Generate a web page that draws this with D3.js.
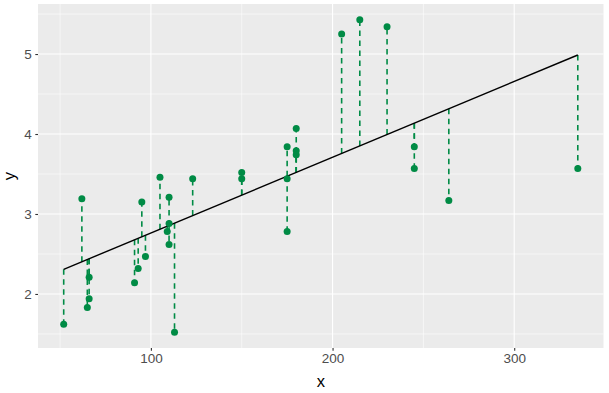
<!DOCTYPE html>
<html>
<head>
    <meta charset="UTF-8">
    <title>Residuals</title>
    <script src="https://cdn.jsdelivr.net/npm/d3@7"></script>
    <style>
        body { margin: 0; background: #fff; }
        svg text { font-family: "Liberation Sans", Arial, sans-serif; }
    </style>
</head>
<body>
<div id="chart"></div>
<script>

    var xValues = [52, 62, 66, 66, 65, 91, 93, 95, 97, 105, 109, 110, 110, 110, 113, 123,
        150, 150, 175, 175, 175, 180, 180, 180, 205, 215, 230, 245, 245, 264, 335];
    var yValues = [1.62, 3.19, 2.21, 1.94, 1.83, 2.14, 2.32, 3.15, 2.47, 3.46, 2.78, 3.21, 2.62, 2.88, 1.52, 3.44,
        3.52, 3.44, 3.84, 3.44, 2.78, 4.07, 3.79, 3.74, 5.25, 5.43, 5.34, 3.84, 3.57, 3.17, 3.57];

    var xTicks = [100, 200, 300];
    var xMinor = [50, 150, 250];
    var yTicks = [2, 3, 4, 5];
    var yMinor = [1.5, 2.5, 3.5, 4.5, 5.5];

    var width = 609, height = 393;
    var panel = {left: 38, top: 4, right: 603.5, bottom: 348};

    var data = xValues.map(function (x, i) { return {x: x, y: yValues[i]}; });

    // Least squares fit
    var mx = d3.mean(xValues), my = d3.mean(yValues);
    var sxy = d3.sum(data, function (d) { return (d.x - mx) * (d.y - my); });
    var sxx = d3.sum(data, function (d) { return (d.x - mx) * (d.x - mx); });
    var slope = sxy / sxx, intercept = my - slope * mx;
    data.forEach(function (d) { d.fit = intercept + slope * d.x; });

    // ggplot-style 5% expansion
    function expand(ext) {
        var r = ext[1] - ext[0];
        return [ext[0] - 0.05 * r, ext[1] + 0.05 * r];
    }

    var x = d3.scaleLinear().domain(expand(d3.extent(xValues))).range([panel.left, panel.right]);
    var y = d3.scaleLinear().domain(expand(d3.extent(yValues))).range([panel.bottom, panel.top]);

    var svg = d3.select("#chart").append("svg")
        .attr("width", width)
        .attr("height", height);

    svg.append("rect")
        .attr("x", panel.left).attr("y", panel.top)
        .attr("width", panel.right - panel.left)
        .attr("height", panel.bottom - panel.top)
        .attr("fill", "#EBEBEB");

    // grid
    var grid = svg.append("g").attr("stroke", "#fff");
    grid.selectAll(".ymin").data(yMinor).enter().append("line")
        .attr("x1", panel.left).attr("x2", panel.right)
        .attr("y1", y).attr("y2", y).attr("stroke-width", 0.55);
    grid.selectAll(".xmin").data(xMinor).enter().append("line")
        .attr("y1", panel.top).attr("y2", panel.bottom)
        .attr("x1", x).attr("x2", x).attr("stroke-width", 0.55);
    grid.selectAll(".ymaj").data(yTicks).enter().append("line")
        .attr("x1", panel.left).attr("x2", panel.right)
        .attr("y1", y).attr("y2", y).attr("stroke-width", 1.1);
    grid.selectAll(".xmaj").data(xTicks).enter().append("line")
        .attr("y1", panel.top).attr("y2", panel.bottom)
        .attr("x1", x).attr("x2", x).attr("stroke-width", 1.1);

    // residual segments
    svg.append("g").selectAll("line").data(data).enter().append("line")
        .attr("x1", function (d) { return x(d.x); })
        .attr("x2", function (d) { return x(d.x); })
        .attr("y1", function (d) { return y(d.fit); })
        .attr("y2", function (d) { return y(d.y); })
        .attr("stroke", "#008B45")
        .attr("stroke-width", 1.6)
        .attr("stroke-dasharray", "5.5,4.5");

    // fitted line
    var xr = d3.extent(xValues);
    svg.append("line")
        .attr("x1", x(xr[0])).attr("y1", y(intercept + slope * xr[0]))
        .attr("x2", x(xr[1])).attr("y2", y(intercept + slope * xr[1]))
        .attr("stroke", "#000")
        .attr("stroke-width", 1.4);

    // points
    svg.append("g").selectAll("circle").data(data).enter().append("circle")
        .attr("cx", function (d) { return x(d.x); })
        .attr("cy", function (d) { return y(d.y); })
        .attr("r", 3.5)
        .attr("fill", "#008B45");

    // axes
    var xAxis = svg.append("g")
        .attr("transform", "translate(0," + panel.bottom + ")")
        .call(d3.axisBottom(x).tickValues(xTicks).tickFormat(d3.format("d")).tickSize(2.7).tickPadding(3));
    var yAxis = svg.append("g")
        .attr("transform", "translate(" + panel.left + ",0)")
        .call(d3.axisLeft(y).tickValues(yTicks).tickFormat(d3.format("d")).tickSize(2.7).tickPadding(3.5));

    [xAxis, yAxis].forEach(function (a) {
        a.select(".domain").remove();
        a.selectAll(".tick line").attr("stroke", "#333").attr("stroke-width", 1.1);
        a.selectAll(".tick text").attr("fill", "#4D4D4D").style("font-size", "13.5px");
    });

    svg.append("text")
        .attr("x", (panel.left + panel.right) / 2)
        .attr("y", 387)
        .attr("text-anchor", "middle")
        .style("font-size", "16.5px")
        .text("x");

    svg.append("text")
        .attr("transform", "translate(15," + ((panel.top + panel.bottom) / 2) + ") rotate(-90)")
        .attr("text-anchor", "middle")
        .style("font-size", "16.5px")
        .text("y");

</script>
</body>
</html>
